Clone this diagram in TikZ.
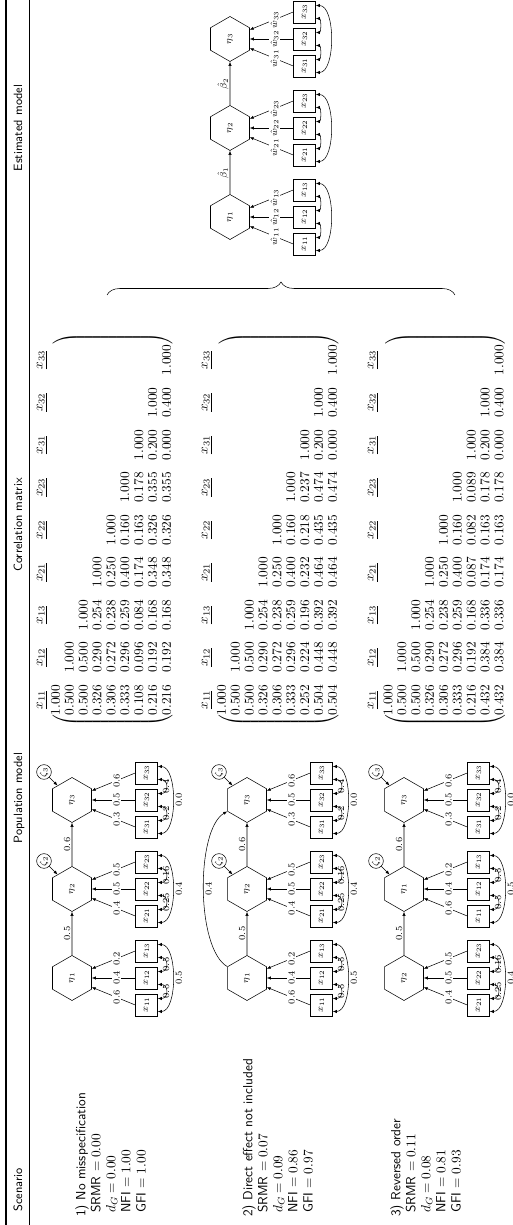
\documentclass[tikz,border=0pt]{standalone}
\usepackage{amsmath}
\usetikzlibrary{shapes.geometric, arrows.meta, decorations.pathreplacing}
\tikzset{latent/.style={draw, regular polygon, regular polygon sides=6, minimum size=33.75pt, inner sep=0pt, font=\scriptsize},
         manifest/.style={draw, minimum size=16.5pt, inner sep=0pt, font=\scriptsize},
         dist/.style={draw, circle, minimum size=11pt, inner sep=0pt, font=\scriptsize},
         coef/.style={fill=white, inner sep=1pt, font=\scriptsize},
         lbl/.style={inner sep=1pt, font=\scriptsize},
         hdr/.style={anchor=base, inner sep=0pt, font=\sffamily\small},
         scen/.style={anchor=north west, align=left, inner sep=0pt, font=\sffamily\fontsize{10}{11.3}\selectfont},
         corr/.style={inner sep=0pt, execute at begin node={\arraycolsep=4.54pt\def\arraystretch{0.867}}},
        }

\begin{document}
\begin{tikzpicture}[x=0.75pt, y=0.75pt, >={Latex[length=3pt,width=2.4pt]}]
    \useasboundingbox (0,0) rectangle (512,1225);
    \begin{scope}[rotate=90, transform shape]
        % rules and header row
        \draw[line width=0.8pt] (0,-6) -- (1225,-6);
        \draw[line width=0.5pt] (0,-29) -- (1225,-29);
        \node[hdr, anchor=base west](hs)at(13,-22){Scenario};
        \node[hdr](hp)at(427,-22){Population model};
        \node[hdr](hc)at(700,-22){Correlation matrix};
        \node[hdr](he)at(1097,-22){Estimated model};

        % scenarios
        \node[scen](t1)at(8,-75){1) No misspecification\\ \hspace*{3pt}SRMR $= 0.00$\\ \hspace*{3pt}$d_G = 0.00$\\ \hspace*{3pt}NFI $= 1.00$\\ \hspace*{3pt}GFI $= 1.00$};
        \node[scen](t2)at(8,-242){2) Direct effect not included\\ \hspace*{3pt}SRMR $= 0.07$\\ \hspace*{3pt}$d_G = 0.09$\\ \hspace*{3pt}NFI $= 0.86$\\ \hspace*{3pt}GFI $= 0.97$};
        \node[scen](t3)at(8,-390){3) Reversed order\\ \hspace*{3pt}SRMR $= 0.11$\\ \hspace*{3pt}$d_G = 0.08$\\ \hspace*{3pt}NFI $= 0.81$\\ \hspace*{3pt}GFI $= 0.93$};

        % latent variables with their indicators
        \foreach \nm/\xc/\yc/\idx/\lda/\ldb/\ldc/\cva/\cvb/\cvc/\bnd in {
            s1a/247/-72/1/0.6/0.4/0.2/0.5/0.5/0.5/11,
            s1b/336/-72/2/0.4/0.5/0.5/0.25/0.16/0.4/11,
            s1c/425/-72/3/0.3/0.5/0.6/0.2/0.4/0.0/11,
            s2a/247/-247/1/0.6/0.4/0.2/0.5/0.5/0.5/11,
            s2b/336/-247/2/0.4/0.5/0.5/0.25/0.16/0.4/11,
            s2c/425/-247/3/0.3/0.5/0.6/0.2/0.4/0.0/11,
            s3a/247/-404/2/0.4/0.5/0.5/0.25/0.16/0.4/11,
            s3b/336/-404/1/0.6/0.4/0.2/0.5/0.5/0.5/11,
            s3c/425/-404/3/0.3/0.5/0.6/0.2/0.4/0.0/11,
            ea/1008/-230/1/\hat{w}_{11}/\hat{w}_{12}/\hat{w}_{13}/{}/{}/{}/5.5,
            eb/1097/-230/2/\hat{w}_{21}/\hat{w}_{22}/\hat{w}_{23}/{}/{}/{}/5.5,
            ec/1186/-230/3/\hat{w}_{31}/\hat{w}_{32}/\hat{w}_{33}/{}/{}/{}/5.5}{
            \node[latent](\nm)at(\xc,\yc){$\eta_{\idx}$};
            \node[manifest](\nm-1)at(\xc-27,\yc-74.5){$x_{\idx1}$};
            \node[manifest](\nm-2)at(\xc,\yc-74.5){$x_{\idx2}$};
            \node[manifest](\nm-3)at(\xc+27,\yc-74.5){$x_{\idx3}$};
            \draw[->](\nm-1.north) -- node[coef, pos=0.43]{$\lda$} (\nm.-115);
            \draw[->](\nm-2.north) -- node[coef, pos=0.43]{$\ldb$} (\nm.-90);
            \draw[->](\nm-3.north) -- node[coef, pos=0.43]{$\ldc$} (\nm.-65);
            \draw[<->](\nm-1.-60) .. controls +(0,-\bnd) and +(0,-\bnd) .. node[lbl]{\cva} (\nm-2.-120);
            \draw[<->](\nm-2.-60) .. controls +(0,-\bnd) and +(0,-\bnd) .. node[lbl]{\cvb} (\nm-3.-120);
            \draw[<->](\nm-1.-120) .. controls +(0,-20) and +(0,-20) .. node[lbl, below, inner sep=2pt]{\cvc} (\nm-3.-60);
        }

        % disturbances and paths
        \foreach \scn/\yc/\zm in {s1/-72/2, s2/-247/2, s3/-404/2}{
            \node[dist](\scn z2)at(364,\yc+28){$\zeta_{\zm}$};
            \node[dist](\scn z3)at(453,\yc+28){$\zeta_3$};
            \draw[->](\scn z2) -- (\scn b);
            \draw[->](\scn z3) -- (\scn c);
            \draw[->](\scn a) -- node[lbl, above]{0.5} (\scn b);
            \draw[->](\scn b) -- node[lbl, above]{0.6} (\scn c);
        }
        \draw[->](s2a.60) to[out=60, in=120, looseness=0.6] node[lbl, below]{0.4} (s2c.120);

        \draw[->](ea) -- node[lbl, above]{$\hat{\beta}_1$} (eb);
        \draw[->](eb) -- node[lbl, above]{$\hat{\beta}_2$} (ec);

        % correlation matrices
        \foreach \j/\lab in {0/11, 1/12, 2/13, 3/21, 4/22, 5/23, 6/31, 7/32, 8/33}{
            \node(h1-\lab)at(525+42.5*\j,-42){$\underline{x_{\lab}}$};
            \node(h2-\lab)at(525+42.5*\j,-207){$\underline{x_{\lab}}$};
            \node(h3-\lab)at(525+42.5*\j,-373){$\underline{x_{\lab}}$};
        }
        \node[corr](m1)at(695,-112.5){$\begin{pmatrix}
            1.000 \\
            0.500 & 1.000 \\
            0.500 & 0.500 & 1.000 \\
            0.326 & 0.290 & 0.254 & 1.000 \\
            0.306 & 0.272 & 0.238 & 0.250 & 1.000 \\
            0.333 & 0.296 & 0.259 & 0.400 & 0.160 & 1.000 \\
            0.108 & 0.096 & 0.084 & 0.174 & 0.163 & 0.178 & 1.000 \\
            0.216 & 0.192 & 0.168 & 0.348 & 0.326 & 0.355 & 0.200 & 1.000 \\
            0.216 & 0.192 & 0.168 & 0.348 & 0.326 & 0.355 & 0.000 & 0.400 & 1.000
        \end{pmatrix}$};
        \node[corr](m2)at(695,-278.5){$\begin{pmatrix}
            1.000 \\
            0.500 & 1.000 \\
            0.500 & 0.500 & 1.000 \\
            0.326 & 0.290 & 0.254 & 1.000 \\
            0.306 & 0.272 & 0.238 & 0.250 & 1.000 \\
            0.333 & 0.296 & 0.259 & 0.400 & 0.160 & 1.000 \\
            0.252 & 0.224 & 0.196 & 0.232 & 0.218 & 0.237 & 1.000 \\
            0.504 & 0.448 & 0.392 & 0.464 & 0.435 & 0.474 & 0.200 & 1.000 \\
            0.504 & 0.448 & 0.392 & 0.464 & 0.435 & 0.474 & 0.000 & 0.400 & 1.000
        \end{pmatrix}$};
        \node[corr](m3)at(695,-445){$\begin{pmatrix}
            1.000 \\
            0.500 & 1.000 \\
            0.500 & 0.500 & 1.000 \\
            0.326 & 0.290 & 0.254 & 1.000 \\
            0.306 & 0.272 & 0.238 & 0.250 & 1.000 \\
            0.333 & 0.296 & 0.259 & 0.400 & 0.160 & 1.000 \\
            0.216 & 0.192 & 0.168 & 0.087 & 0.082 & 0.089 & 1.000 \\
            0.432 & 0.384 & 0.336 & 0.174 & 0.163 & 0.178 & 0.200 & 1.000 \\
            0.432 & 0.384 & 0.336 & 0.174 & 0.163 & 0.178 & 0.000 & 0.400 & 1.000
        \end{pmatrix}$};

        % brace towards the estimated model
        \coordinate(bt)at(930,-107);
        \coordinate(bb)at(930,-455);
        \draw[decorate, decoration={brace, amplitude=9.75pt}](bt) -- (bb);
    \end{scope}
\end{tikzpicture}
\end{document}
